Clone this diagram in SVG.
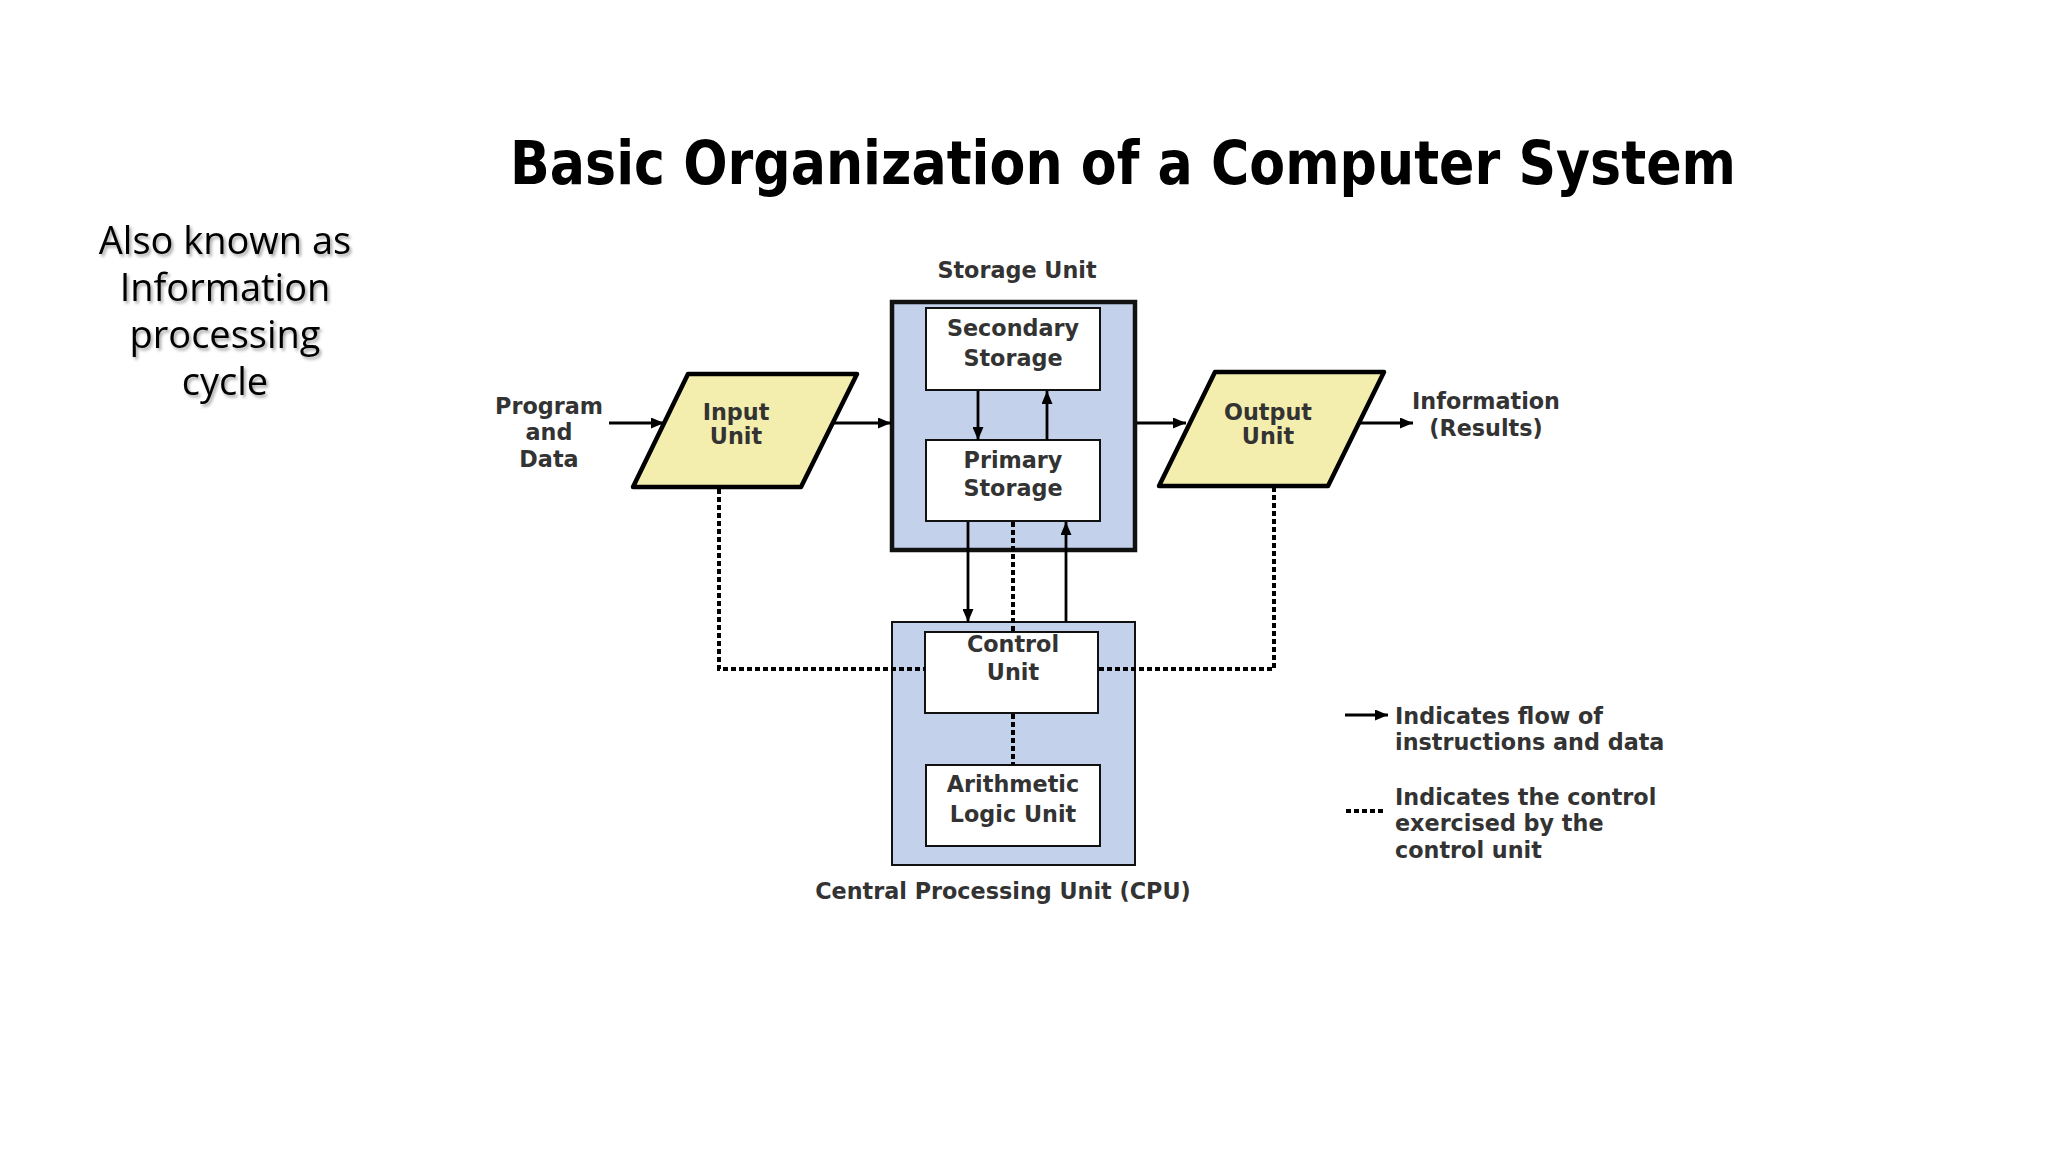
<svg xmlns="http://www.w3.org/2000/svg" width="2048" height="1152" viewBox="0 0 2048 1152">
<style>
.lbl{font-family:"DejaVu Sans",Verdana,sans-serif;font-weight:bold;font-size:22.3px;fill:#333;text-anchor:middle}
.leg{font-family:"DejaVu Sans",Verdana,sans-serif;font-weight:bold;font-size:22.3px;fill:#333}
.box{fill:#fff;stroke:#111;stroke-width:2}
.blue{fill:#c3d1ea;stroke:#111}
.para{fill:#f3eead;stroke:#000;stroke-width:4.5;stroke-linejoin:round}
.flow{stroke:#000;stroke-width:2.8;fill:none}
.ctrl{stroke:#000;stroke-width:4;fill:none;stroke-dasharray:5 3}
.side{font-family:"Open Sans","Noto Sans",sans-serif;font-size:38px;fill:#000;text-anchor:middle}
</style>
<defs>
<marker id="ah" viewBox="0 0 13 11" refX="13" refY="5.5" markerWidth="13" markerHeight="11" markerUnits="userSpaceOnUse" orient="auto">
<path d="M0,0 L13,5.5 L0,11 Z" fill="#000"/>
</marker>
<filter id="sh" x="-10%" y="-10%" width="120%" height="130%">
<feDropShadow dx="2" dy="2.5" stdDeviation="1.5" flood-color="#000" flood-opacity="0.35"/>
</filter>
</defs>
<rect width="2048" height="1152" fill="#fff"/>

<text x="1123" y="184" font-family="'DejaVu Sans',Verdana,sans-serif" font-weight="bold" font-size="60" fill="#000" text-anchor="middle" textLength="1226" lengthAdjust="spacingAndGlyphs">Basic Organization of a Computer System</text>

<g id="side-note" filter="url(#sh)">
<text class="side" x="225" y="254">Also known as</text>
<text class="side" x="225" y="301">Information</text>
<text class="side" x="225" y="348">processing</text>
<text class="side" x="225" y="395">cycle</text>
</g>

<g id="program-data">
<text class="lbl" x="549" y="414">Program</text>
<text class="lbl" x="549" y="440">and</text>
<text class="lbl" x="549" y="467">Data</text>
</g>

<g id="storage-unit">
<text class="lbl" x="1017" y="278">Storage Unit</text>
<rect class="blue" x="892" y="302" width="243" height="248" stroke-width="4.5"/>
</g>

<g id="cpu">
<rect class="blue" x="892" y="622" width="243" height="243" stroke-width="2"/>
<text class="lbl" x="1003" y="899">Central Processing Unit (CPU)</text>
</g>

<g id="secondary-storage">
<rect class="box" x="926" y="308" width="174" height="82"/>
<text class="lbl" x="1013" y="336">Secondary</text>
<text class="lbl" x="1013" y="366">Storage</text>
</g>

<g id="primary-storage">
<rect class="box" x="926" y="440" width="174" height="81"/>
<text class="lbl" x="1013" y="468">Primary</text>
<text class="lbl" x="1013" y="496">Storage</text>
</g>

<g id="control-unit">
<rect class="box" x="925" y="632" width="173" height="81"/>
<text class="lbl" x="1013" y="652">Control</text>
<text class="lbl" x="1013" y="680">Unit</text>
</g>

<g id="alu">
<rect class="box" x="926" y="765" width="174" height="81"/>
<text class="lbl" x="1013" y="792">Arithmetic</text>
<text class="lbl" x="1013" y="822">Logic Unit</text>
</g>

<g id="input-unit">
<polygon class="para" points="688,374 857,374 801,487 633,487"/>
<text class="lbl" x="736" y="420">Input</text>
<text class="lbl" x="736" y="444">Unit</text>
</g>

<g id="output-unit">
<polygon class="para" points="1215,372 1384,372 1328,486 1159,486"/>
<text class="lbl" x="1268" y="420">Output</text>
<text class="lbl" x="1268" y="444">Unit</text>
</g>

<g id="information">
<text class="lbl" x="1486" y="409">Information</text>
<text class="lbl" x="1486" y="436">(Results)</text>
</g>

<g id="connectors">
<line class="flow" x1="609" y1="423" x2="664" y2="423" marker-end="url(#ah)"/>
<line class="flow" x1="833" y1="423" x2="891" y2="423" marker-end="url(#ah)"/>
<line class="flow" x1="1137" y1="423" x2="1186" y2="423" marker-end="url(#ah)"/>
<line class="flow" x1="1360" y1="423" x2="1413" y2="423" marker-end="url(#ah)"/>
<line class="flow" x1="978" y1="391" x2="978" y2="440" marker-end="url(#ah)"/>
<line class="flow" x1="1047" y1="440" x2="1047" y2="391" marker-end="url(#ah)"/>
<line class="flow" x1="968" y1="522" x2="968" y2="622" marker-end="url(#ah)"/>
<line class="flow" x1="1066" y1="622" x2="1066" y2="522" marker-end="url(#ah)"/>
<line class="ctrl" x1="1013" y1="522" x2="1013" y2="632"/>
<line class="ctrl" x1="1013" y1="714" x2="1013" y2="765"/>
<polyline class="ctrl" points="719,489 719,669 925,669"/>
<polyline class="ctrl" points="1099,669 1274,669 1274,488"/>
</g>

<g id="legend">
<line class="flow" x1="1345" y1="715" x2="1388" y2="715" marker-end="url(#ah)"/>
<text class="leg" x="1395" y="724">Indicates flow of</text>
<text class="leg" x="1395" y="750">instructions and data</text>
<line class="ctrl" x1="1346" y1="811" x2="1386" y2="811"/>
<text class="leg" x="1395" y="805">Indicates the control</text>
<text class="leg" x="1395" y="831">exercised by the</text>
<text class="leg" x="1395" y="858">control unit</text>
</g>
</svg>
